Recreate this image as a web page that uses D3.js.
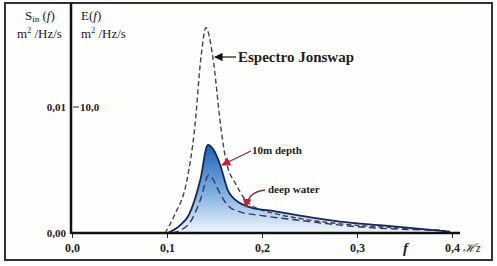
<!DOCTYPE html>
<html lang="en">
<head>
  <meta charset="UTF-8">
  <title>espectro</title>
  <script src="https://cdn.jsdelivr.net/npm/d3@7"></script>
  <style>
    body { margin: 0; background: #fff; }
    text { font-family: "Liberation Serif", "DejaVu Serif", serif; fill: #222; }
  </style>
</head>
<body>
  <svg width="497" height="266"></svg>
  <script>
    // values, E(f) in m2/Hz/s
    var jonswapF = [0.098, 0.108, 0.121, 0.129, 0.136, 0.141, 0.148, 0.157, 0.162, 0.173, 0.187, 0.216, 0.24, 0.293, 0.345, 0.393]
    var jonswapE = [0, 1.43, 4.2, 8.2, 14.1, 16.3, 14.1, 8.2, 5.8, 3.8, 2.3, 1.5, 1.15, 0.65, 0.4, 0.16]
    var depthF = [0.101, 0.114, 0.123, 0.135, 0.143, 0.149, 0.156, 0.164, 0.175, 0.187, 0.214, 0.24, 0.282, 0.33, 0.398]
    var depthE = [0, 0.63, 1.43, 4.2, 7.0, 6.6, 5.4, 3.4, 2.46, 2.06, 1.72, 1.38, 0.9, 0.58, 0.1]
    var deepF = [0.105, 0.122, 0.135, 0.144, 0.149, 0.154, 0.164, 0.177, 0.198, 0.24, 0.3, 0.387]
    var deepE = [0, 0.63, 2.6, 4.6, 4.2, 3.4, 2.2, 1.67, 1.4, 1.0, 0.5, 0.22]
    var xTicks = [0, 0.1, 0.2, 0.3, 0.4]
    var xTickLabels = ['0,0', '0,1', '0,2', '0,3', '0,4']

    var svg = d3.select('svg')
    var x = d3.scaleLinear().domain([0, 0.4]).range([72, 452])
    var y = d3.scaleLinear().domain([0, 10]).range([233, 107])

    var defs = svg.append('defs')
    var grad = defs.append('linearGradient')
      .attr('id', 'fillgrad').attr('x1', 0).attr('y1', 0).attr('x2', 0).attr('y2', 1)
    grad.append('stop').attr('offset', '0%').attr('stop-color', '#1f5fb5')
    grad.append('stop').attr('offset', '55%').attr('stop-color', '#7fb0e0')
    grad.append('stop').attr('offset', '100%').attr('stop-color', '#f2f7fc')

    function marker(id, color) {
      defs.append('marker').attr('id', id)
        .attr('viewBox', '0 0 10 10').attr('refX', 9).attr('refY', 5)
        .attr('markerWidth', 7).attr('markerHeight', 7).attr('orient', 'auto')
        .append('path').attr('d', 'M0,0L10,5L0,10z').attr('fill', color)
    }
    marker('ablack', '#111')
    marker('ared', '#c81e3c')

    // outer frame
    svg.append('rect').attr('x', 5).attr('y', 3).attr('width', 487).attr('height', 257)
      .attr('fill', '#fefefc').attr('stroke', '#333').attr('stroke-width', 2)

    function pts(fs, es) { return fs.map((f, i) => [f, es[i]]) }
    var line = d3.line().x(d => x(d[0])).y(d => y(d[1])).curve(d3.curveMonotoneX)
    var area = d3.area().x(d => x(d[0])).y0(y(0)).y1(d => y(d[1])).curve(d3.curveMonotoneX)

    svg.append('path').attr('d', area(pts(depthF, depthE))).attr('fill', 'url(#fillgrad)')
    svg.append('path').attr('d', line(pts(jonswapF, jonswapE)))
      .attr('fill', 'none').attr('stroke', '#444').attr('stroke-width', 1.4).attr('stroke-dasharray', '5,3')
    svg.append('path').attr('d', line(pts(deepF, deepE)))
      .attr('fill', 'none').attr('stroke', '#3d3468').attr('stroke-width', 1.4).attr('stroke-dasharray', '7,4')
    svg.append('path').attr('d', line(pts(depthF, depthE)))
      .attr('fill', 'none').attr('stroke', '#17265a').attr('stroke-width', 1.8)

    // axes
    var fmt = d => xTickLabels[xTicks.indexOf(d)]
    var xAxis = svg.append('g').attr('transform', 'translate(0,233)')
      .call(d3.axisBottom(x).tickValues(xTicks).tickFormat(fmt).tickSize(5))
    xAxis.select('.domain').remove()
    xAxis.selectAll('line').attr('stroke', '#222')
    xAxis.selectAll('text').attr('dy', 0).attr('y', 19)
      .style('font-family', '"Liberation Serif", serif').style('font-size', '12px').style('font-weight', 'bold').attr('fill', '#333')
    svg.append('line').attr('x1', 71).attr('x2', 460).attr('y1', 233).attr('y2', 233)
      .attr('stroke', '#111').attr('stroke-width', 2.5)
    svg.append('line').attr('x1', 71).attr('x2', 71).attr('y1', 3).attr('y2', 234)
      .attr('stroke', '#111').attr('stroke-width', 2.5)

    // left (Sin) and right (E) tick labels
    var ylab = svg.append('g').style('font-size', '11px').style('font-weight', 'bold')
    ylab.append('text').attr('x', 66).attr('y', y(0) + 4).attr('text-anchor', 'end').text('0,00')
    ylab.append('text').attr('x', 66).attr('y', y(10) + 4).attr('text-anchor', 'end').text('0,01')
    svg.append('line').attr('x1', 73).attr('x2', 79).attr('y1', y(10)).attr('y2', y(10)).attr('stroke', '#222')
    ylab.append('text').attr('x', 80).attr('y', y(10) + 4).text('10,0')

    // headers
    var hd = svg.append('g').style('font-size', '13px')
    var s = hd.append('text').attr('x', 25).attr('y', 20)
    s.append('tspan').text('S')
    s.append('tspan').attr('dy', 2).style('font-size', '9px').text('in')
    s.append('tspan').attr('dy', -2).text(' (')
    s.append('tspan').style('font-style', 'italic').text('f')
    s.append('tspan').text(')')
    var m1 = hd.append('text').attr('x', 17).attr('y', 38)
    m1.append('tspan').text('m')
    m1.append('tspan').attr('dy', -5).style('font-size', '8px').text('2')
    m1.append('tspan').attr('dy', 5).text(' /Hz/s')
    var e = hd.append('text').attr('x', 81).attr('y', 20)
    e.append('tspan').text('E(')
    e.append('tspan').style('font-style', 'italic').text('f')
    e.append('tspan').text(')')
    var m2 = hd.append('text').attr('x', 81).attr('y', 38)
    m2.append('tspan').text('m')
    m2.append('tspan').attr('dy', -5).style('font-size', '8px').text('2')
    m2.append('tspan').attr('dy', 5).text(' /Hz/s')

    // axis name
    svg.append('text').attr('x', 403).attr('y', 253).style('font-size', '15px')
      .style('font-style', 'italic').style('font-weight', 'bold').text('f')
    svg.append('text').attr('x', 463).attr('y', 252).style('font-size', '12px')
      .style('font-style', 'italic').text('ℋz')

    // annotations
    svg.append('line').attr('x1', 236).attr('y1', 57).attr('x2', 215).attr('y2', 57)
      .attr('stroke', '#111').attr('stroke-width', 1.2).attr('marker-end', 'url(#ablack)')
    svg.append('text').attr('x', 238).attr('y', 62).style('font-size', '15px').style('font-weight', 'bold')
      .text('Espectro Jonswap')

    svg.append('line').attr('x1', 251).attr('y1', 151).attr('x2', 222).attr('y2', 165)
      .attr('stroke', '#8a2a40').attr('stroke-width', 1.3).attr('marker-end', 'url(#ared)')
    svg.append('text').attr('x', 252).attr('y', 154).style('font-size', '11px').style('font-weight', 'bold')
      .text('10m depth')

    svg.append('path').attr('d', 'M265,190 Q248,192 246,207')
      .attr('fill', 'none').attr('stroke', '#8a2a40').attr('stroke-width', 1.3).attr('marker-end', 'url(#ared)')
    svg.append('text').attr('x', 268).attr('y', 193).style('font-size', '11px').style('font-weight', 'bold')
      .text('deep water')
  </script>
</body>
</html>
